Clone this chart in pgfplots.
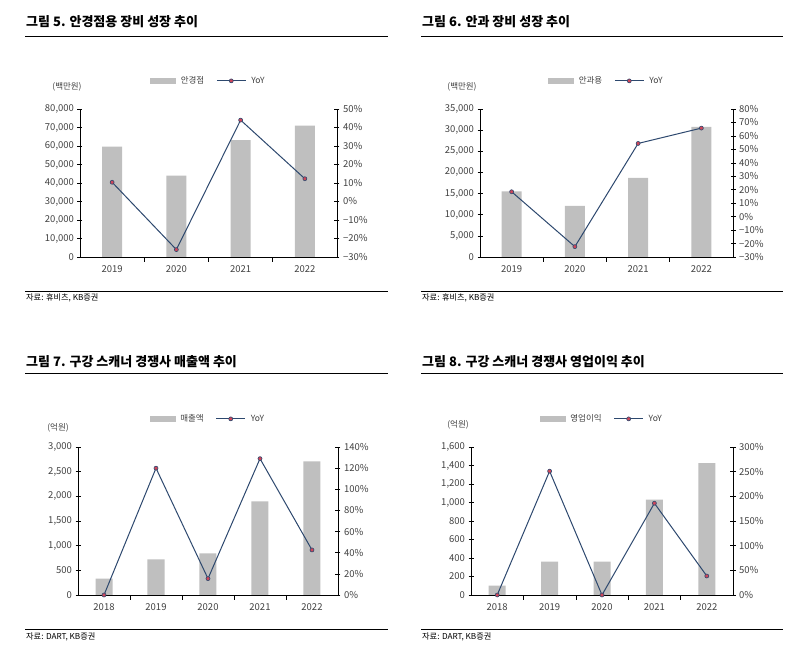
\documentclass[border=0pt]{standalone}
\usepackage{fontspec}
\setmainfont{Noto Sans CJK KR}
\usepackage{pgfplots}
\pgfplotsset{compat=1.18}
\definecolor{bargray}{RGB}{191,191,191}
\definecolor{yoyline}{RGB}{45,72,110}
\definecolor{yoymark}{RGB}{205,70,90}
\definecolor{ticktext}{RGB}{64,64,64}

\pgfplotsset{
  base/.style={
    scale only axis, height=148pt, clip=false,
    axis line style={black, line width=0.7pt, -},
    tick style={black, line width=0.6pt},
    tick align=center, major tick length=5pt, minor tick length=5pt,
    tick label style={font=\fontsize{9.5}{11}\selectfont, text=ticktext},
    /pgf/number format/assume math mode=true,
    /pgf/number format/1000 sep={,},
    scaled y ticks=false,
  },
  barax/.style={
    base, axis x line*=bottom, axis y line*=left,
    major x tick style={draw=none},
    ybar, bar width=#1,
  },
  yoyax/.style={
    base, axis x line=none, axis y line*=right,
    yticklabel={\ifdim\tick pt<0pt −\pgfmathparse{-\tick}\pgfmathprintnumber{\pgfmathresult}\else\pgfmathprintnumber{\tick}\fi\%},
    legend style={draw=none, fill=none, legend columns=2,
      at={(0.5,1.19)}, anchor=center,
      font=\fontsize{8.5}{10}\selectfont, text=ticktext,
      /tikz/every odd column/.append style={column sep=3pt},
      /tikz/every even column/.append style={column sep=10pt}},
  },
  barleg/.style={legend image code/.code={\fill[bargray] (0pt,-2.5pt) rectangle (25pt,2.5pt);}},
  yoy/.style={yoyline, line width=1pt, mark=*, mark size=2pt,
    mark options={fill=yoymark, draw=yoyline, line width=0.6pt},
    legend image code/.code={\draw[yoyline, line width=1pt] (0pt,0pt)--(29pt,0pt);
      \draw[fill=yoymark, draw=yoyline, line width=0.6pt] (14.5pt,0pt) circle (2pt);}},
}

\begin{document}
\begin{tikzpicture}[x=1pt, y=1pt]
\path[use as bounding box] (0,0) rectangle (796,648);

% ---------- titles, rules, sources ----------
\tikzset{ttl/.style={anchor=west, inner sep=0pt, font=\bfseries\fontsize{13}{15}\selectfont},
         src/.style={anchor=west, inner sep=0pt, font=\fontsize{8.2}{9}\selectfont},
         unit/.style={inner sep=0pt, font=\fontsize{8.5}{10}\selectfont, text=ticktext}}
\node[ttl] at (26,626) {그림 5. 안경점용 장비 성장 추이};
\node[ttl] at (422,626) {그림 6. 안과 장비 성장 추이};
\node[ttl] at (26,286) {그림 7. 구강 스캐너 경쟁사 매출액 추이};
\node[ttl] at (422,286) {그림 8. 구강 스캐너 경쟁사 영업이익 추이};
\draw[line width=0.9pt] (25,612) -- (388,612);
\draw[line width=0.9pt] (421,612) -- (783,612);
\draw[line width=0.9pt] (25,275) -- (388,275);
\draw[line width=0.9pt] (421,275) -- (783,275);
\draw[line width=0.6pt] (25,357) -- (388,357);
\draw[line width=0.6pt] (421,357) -- (783,357);
\draw[line width=0.6pt] (25,19) -- (388,19);
\draw[line width=0.6pt] (421,19) -- (783,19);
\node[src] at (26,350) {자료: 휴비츠, KB증권};
\node[src] at (422,350) {자료: 휴비츠, KB증권};
\node[src] at (26,11) {자료: DART, KB증권};
\node[src] at (422,11) {자료: DART, KB증권};
\node[unit] at (67,561) {(백만원)};
\node[unit] at (462,561) {(백만원)};
\node[unit] at (58,220) {(억원)};
\node[unit] at (458,223) {(억원)};

% ---------- Figure 5 ----------
\begin{axis}[barax=20pt, at={(80pt,391pt)}, anchor=south west, width=257pt,
  xmin=-0.5, xmax=3.5, xtick={0,1,2,3}, xticklabels={2019,2020,2021,2022},
  minor xtick={0.5,1.5,2.5},
  ymin=0, ymax=80000, ytick={0,10000,...,80000}]
\addplot[fill=bargray, draw=none] coordinates {(0,59600) (1,44000) (2,63200) (3,71000)};
\end{axis}
\begin{axis}[yoyax, at={(80pt,391pt)}, anchor=south west, width=257pt,
  xmin=-0.5, xmax=3.5, ymin=-30, ymax=50, ytick={-30,-20,...,50}]
\addlegendimage{barleg}\addlegendentry{안경점}
\addplot[yoy] coordinates {(0,10.4) (1,-26) (2,44) (3,12.3)};
\addlegendentry{YoY}
\end{axis}

% ---------- Figure 6 ----------
\begin{axis}[barax=20pt, at={(480pt,391pt)}, anchor=south west, width=253pt,
  xmin=-0.5, xmax=3.5, xtick={0,1,2,3}, xticklabels={2019,2020,2021,2022},
  minor xtick={0.5,1.5,2.5},
  ymin=0, ymax=35000, ytick={0,5000,...,35000}]
\addplot[fill=bargray, draw=none] coordinates {(0,15500) (1,12100) (2,18700) (3,30800)};
\end{axis}
\begin{axis}[yoyax, at={(480pt,391pt)}, anchor=south west, width=253pt,
  xmin=-0.5, xmax=3.5, ymin=-30, ymax=80, ytick={-30,-20,...,80}]
\addlegendimage{barleg}\addlegendentry{안과용}
\addplot[yoy] coordinates {(0,18.5) (1,-22.3) (2,54.4) (3,65.8)};
\addlegendentry{YoY}
\end{axis}

% ---------- Figure 7 ----------
\begin{axis}[barax=17pt, at={(78pt,53pt)}, anchor=south west, width=260pt,
  xmin=-0.5, xmax=4.5, xtick={0,1,2,3,4}, xticklabels={2018,2019,2020,2021,2022},
  minor xtick={0.5,1.5,2.5,3.5},
  ymin=0, ymax=3000, ytick={0,500,...,3000}]
\addplot[fill=bargray, draw=none] coordinates {(0,330) (1,720) (2,845) (3,1900) (4,2710)};
\end{axis}
\begin{axis}[yoyax, at={(78pt,53pt)}, anchor=south west, width=260pt,
  xmin=-0.5, xmax=4.5, ymin=0, ymax=140, ytick={0,20,...,140}]
\addlegendimage{barleg}\addlegendentry{매출액}
\addplot[yoy] coordinates {(0,0) (1,120) (2,15.5) (3,129) (4,42.6)};
\addlegendentry{YoY}
\end{axis}

% ---------- Figure 8 ----------
\begin{axis}[barax=17pt, at={(471pt,53pt)}, anchor=south west, width=262pt,
  xmin=-0.5, xmax=4.5, xtick={0,1,2,3,4}, xticklabels={2018,2019,2020,2021,2022},
  minor xtick={0.5,1.5,2.5,3.5},
  ymin=0, ymax=1600, ytick={0,200,...,1600}]
\addplot[fill=bargray, draw=none] coordinates {(0,100) (1,362) (2,362) (3,1030) (4,1425)};
\end{axis}
\begin{axis}[yoyax, at={(471pt,53pt)}, anchor=south west, width=262pt,
  xmin=-0.5, xmax=4.5, ymin=0, ymax=300, ytick={0,50,...,300}]
\addlegendimage{barleg}\addlegendentry{영업이익}
\addplot[yoy] coordinates {(0,0) (1,251) (2,0) (3,186) (4,38.5)};
\addlegendentry{YoY}
\end{axis}
\end{tikzpicture}
\end{document}
